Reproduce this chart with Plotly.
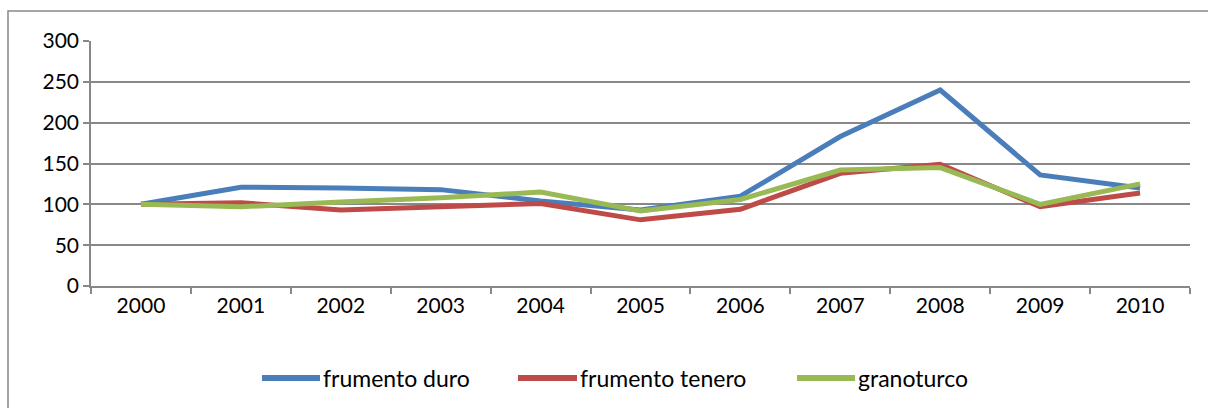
import plotly.graph_objects as go

years = ["2000", "2001", "2002", "2003", "2004", "2005", "2006", "2007", "2008", "2009", "2010"]
frumento_duro = [100, 121, 120, 118, 104, 93, 110, 183, 240, 136, 120]
frumento_tenero = [100, 102, 93, 97, 101, 81, 94, 138, 149, 97, 114]
granoturco = [100, 97, 103, 108, 115, 92, 106, 142, 145, 100, 125]
y_ticks = [0, 50, 100, 150, 200, 250, 300]

series_names = ["frumento duro", "frumento tenero", "granoturco"]
series_values = [frumento_duro, frumento_tenero, granoturco]
series_colors = ["#4A7EBB", "#BE4B48", "#98B954"]

W, H = 1208, 408
L, R, T, B = 91, 18, 41, 122
pw, ph = W - L - R, H - T - B

def px(x):
    return (x - L) / pw

def py(y):
    return (H - B - y) / ph

fig = go.Figure()
for name, vals, col in zip(series_names, series_values, series_colors):
    fig.add_trace(go.Scatter(x=years, y=vals, name=name, mode="lines",
                             line=dict(color=col, width=5), showlegend=False))

# outer chart frame (only top and left edges are inside the picture)
fig.add_shape(type="path", xref="paper", yref="paper",
              path=f"M {px(8)},{py(H + 5)} L {px(8)},{py(11)} L {px(W + 5)},{py(11)}",
              line=dict(color="#888888", width=1.5), layer="below")

# legend (line sample + label), laid out like the reference
legend_line_x = [(262, 320), (518, 577), (797, 855)]
leg_y = 378
for (x0, x1), name, col in zip(legend_line_x, series_names, series_colors):
    fig.add_shape(type="line", xref="paper", yref="paper",
                  x0=px(x0), x1=px(x1), y0=py(leg_y), y1=py(leg_y),
                  line=dict(color=col, width=6))
    fig.add_annotation(xref="paper", yref="paper", x=px(x1 + 1), y=py(leg_y),
                       text=name, showarrow=False, xanchor="left", yanchor="middle",
                       font=dict(size=23, color="black"))

fig.update_layout(
    width=W, height=H,
    margin=dict(l=L, r=R, t=T, b=B),
    paper_bgcolor="white", plot_bgcolor="white",
    font=dict(family="Lato, Carlito, sans-serif", size=21, color="black"),
    showlegend=False,
    xaxis=dict(type="category", range=[-0.5, 10.5], showgrid=False,
               showline=True, linecolor="#888888", linewidth=1.5,
               ticks="outside", tickson="boundaries", ticklen=6, tickcolor="#888888",
               tickwidth=1.5, fixedrange=True),
    yaxis=dict(range=[0, 300], tickvals=y_ticks, showgrid=True, gridcolor="#888888",
               gridwidth=1.5, showline=True, linecolor="#888888", linewidth=1.5,
               ticks="outside", ticklen=6, tickcolor="#888888", tickwidth=1.5,
               zeroline=False, fixedrange=True),
)

fig.write_html(
    "out.html",
    config={"displayModeBar": False},
    post_script="document.body.style.margin='0';document.body.style.overflow='hidden';",
)
